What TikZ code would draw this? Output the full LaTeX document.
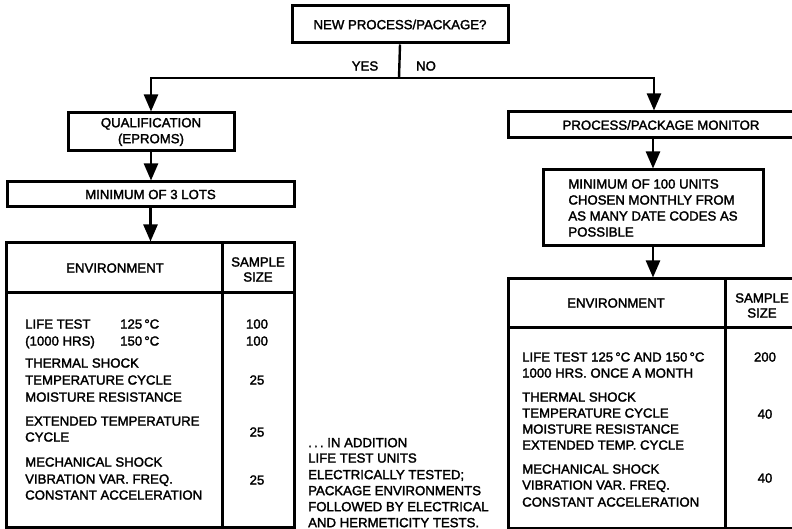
\documentclass[tikz,border=0pt]{standalone}
\usepackage{fontspec}
\usetikzlibrary{arrows.meta}
\newfontfamily\labelfont[FakeBold=2]{Liberation Sans}

\begin{document}
\begin{tikzpicture}[x=1pt,y=-1pt,
  txt/.style={font=\labelfont\fontsize{13.2}{16}\selectfont, inner sep=0pt},
  line/.style={txt, anchor=base west},
  num/.style={txt, anchor=base},
  head/.style={txt, align=center, font=\labelfont\fontsize{13.2}{15}\selectfont},
  box/.style={draw, rectangle, line width=3pt, inner sep=0pt, align=center,
              font=\labelfont\fontsize{13.2}{16}\selectfont},
  frame/.style={line width=3pt},
  link/.style={line width=2.4pt},
  arr/.style={link, -{Triangle[width=14pt,length=17pt]}}]

\useasboundingbox (0,0) rectangle (792,529);
\clip (0,0) rectangle (792,529);

% decision at the top
\node[box, minimum width=216pt, minimum height=37pt] (new) at (400,24.5) {NEW PROCESS/PACKAGE?};
\node[txt] (yes) at (365,66) {YES};
\node[txt] (no) at (426,66) {NO};
\coordinate (split) at (399,78);

% qualification branch
\node[box, minimum width=166pt, minimum height=38pt] (qual) at (151,132) {QUALIFICATION\\(EPROMS)};
\node[box, minimum width=287pt, minimum height=25pt] (lots) at (150.5,194.5) {MINIMUM OF 3 LOTS};
\node[box, minimum width=288pt, minimum height=284pt] (lt) at (150,385) {};
\draw[frame] (222,243) -- (222,527);
\draw[frame] (6,292) -- (294,292);
\node[head] (lenv) at (115,268) {ENVIRONMENT};
\node[head] (lsize) at (258,269.5) {SAMPLE\\SIZE};

\foreach \t/\y [count=\i] in {{LIFE TEST}/328.6, {(1000 HRS)}/345.6,
    {THERMAL SHOCK}/367.6, {TEMPERATURE CYCLE}/384.6, {MOISTURE RESISTANCE}/401.6,
    {EXTENDED TEMPERATURE}/425.6, {CYCLE}/441.6,
    {MECHANICAL SHOCK}/466.6, {VIBRATION VAR. FREQ.}/483.6, {CONSTANT ACCELERATION}/499.6}
  \node[line] (le\i) at (25,\y) {\t};
\node[line] (lt1) at (120,328.6) {125\,°C};
\node[line] (lt2) at (120,345.6) {150\,°C};
\foreach \t/\y [count=\i] in {100/328.6, 100/345.6, 25/384.6, 25/436.6, 25/484.6}
  \node[num] (ln\i) at (257,\y) {\t};

% note between the tables
\foreach \t/\y [count=\i] in {{.\,.\,.\ IN ADDITION}/447.2, {LIFE TEST UNITS}/462.6,
    {ELECTRICALLY TESTED;}/479.2, {PACKAGE ENVIRONMENTS}/495.2,
    {FOLLOWED BY ELECTRICAL}/511.2, {AND HERMETICITY TESTS.}/527.2}
  \node[line] (note\i) at (308,\y) {\t};

% monitor branch
\node[box, minimum width=292pt, minimum height=26pt] (mon) at (654,125) {\hspace*{14pt}PROCESS/PACKAGE MONITOR};
\node[box, minimum width=220pt, minimum height=76pt, align=left] (units) at (653,208)
  {MINIMUM OF 100 UNITS\\CHOSEN MONTHLY FROM\\AS MANY DATE CODES AS\\POSSIBLE};
\node[box, minimum width=312pt, minimum height=249pt] (rt) at (664,403.5) {};
\draw[frame] (725,279) -- (725,528);
\draw[frame] (508,327) -- (800,327);
\node[head] (renv) at (616,303) {ENVIRONMENT};
\node[head] (rsize) at (762,305.5) {SAMPLE\\SIZE};

\foreach \t/\y [count=\i] in {{LIFE TEST 125\,°C AND 150\,°C}/361.6, {1000 HRS. ONCE A MONTH}/377.6,
    {THERMAL SHOCK}/401.6, {TEMPERATURE CYCLE}/417.6, {MOISTURE RESISTANCE}/433.6,
    {EXTENDED TEMP. CYCLE}/449.6,
    {MECHANICAL SHOCK}/473.6, {VIBRATION VAR. FREQ.}/489.6, {CONSTANT ACCELERATION}/506.6}
  \node[line] (re\i) at (522,\y) {\t};
\foreach \t/\y [count=\i] in {200/361.6, 40/418.6, 40/482.6}
  \node[num] (rn\i) at (765,\y) {\t};

% connectors
\draw[link] (new.south) -- (split);
\draw[arr] (split) -| (qual.north);
\draw[arr] (split) -| (mon.north);
\draw[arr] (qual.south) -- (qual.south |- lots.north);
\draw[arr] (lots.south) -- (lots.south |- lt.north);
\draw[arr] (units.north |- mon.south) -- (units.north);
\draw[arr] (units.south) -- (units.south |- rt.north);
\end{tikzpicture}
\end{document}
